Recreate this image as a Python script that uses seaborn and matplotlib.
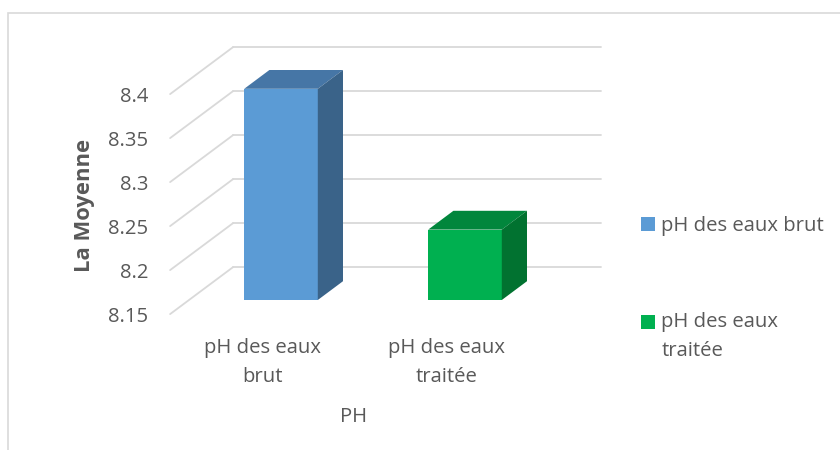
import matplotlib
matplotlib.use('Agg')
import matplotlib.pyplot as plt
import matplotlib.transforms as mtransforms
from matplotlib.patches import Polygon, Rectangle
from matplotlib.legend_handler import HandlerPatch
from matplotlib.lines import Line2D
import seaborn as sns

categories = ['pH des eaux brut', 'pH des eaux traitée']
values = [8.39, 8.23]
xtick_labels = ['pH des eaux\nbrut', 'pH des eaux\ntraitée']
legend_labels = ['pH des eaux brut', 'pH des eaux\ntraitée']
yticks = [8.15, 8.2, 8.25, 8.3, 8.35, 8.4]
ytick_labels = ['8.15', '8.2', '8.25', '8.3', '8.35', '8.4']
front_colors = ['#5B9BD5', '#00B050']
top_colors = ['#4676A6', '#01863C']
side_colors = ['#3A6389', '#017230']

sns.set_style('white')
plt.rcParams['font.family'] = ['Open Sans', 'DejaVu Sans']
text_color = '#595959'
grid_color = '#D9D9D9'
fs = 14.6

W, H = 840, 450
fig = plt.figure(figsize=(W / 100, H / 100), dpi=100)
# axes = the plane of the bars' front faces (pixels)
ax_left, ax_right, ax_bottom, ax_top = 189, 557, 300, 80
ax = fig.add_axes([ax_left / W, 1 - ax_bottom / H, (ax_right - ax_left) / W, (ax_bottom - ax_top) / H])

sns.barplot(x=categories, y=values, hue=categories, palette=front_colors, saturation=1,
            width=0.4, linewidth=0, legend=False, ax=ax, zorder=3)
ax.set_xlim(-0.5, 1.5)
ax.set_ylim(yticks[0], yticks[-1])
sns.despine(ax=ax, left=True, bottom=True)
ax.grid(False)

# depth of the 3D box in pixels, bar plane at 30% of it, bars 40% deep
depth = (63, 47)
front_off = (-0.3 * depth[0], -0.3 * depth[1])
back_off = (0.7 * depth[0], 0.7 * depth[1])
bar_d = (0.4 * depth[0], 0.4 * depth[1])

ident = mtransforms.IdentityTransform()
ymin = ax.get_ylim()[0]
for t in yticks:
    (xl, y), (xr, _) = ax.transData.transform([(-0.5, t), (1.5, t)])
    ax.add_line(Line2D([xl + back_off[0], xr + back_off[0]], [y + back_off[1]] * 2,
                       transform=ident, color=grid_color, lw=1.3, zorder=1, clip_on=False))
    ax.add_line(Line2D([xl + front_off[0], xl + back_off[0]], [y + front_off[1], y + back_off[1]],
                       transform=ident, color=grid_color, lw=1.3, zorder=1, clip_on=False))

for p, tc, sc in zip(ax.patches, top_colors, side_colors):
    x0, w, h = p.get_x(), p.get_width(), p.get_height()
    (xl, yb), (xr, yt) = ax.transData.transform([(x0, ymin), (x0 + w, h)])
    dx, dy = bar_d
    top = Polygon([(xl, yt), (xr, yt), (xr + dx, yt + dy), (xl + dx, yt + dy)],
                  closed=True, transform=ident, facecolor=tc, edgecolor='none', zorder=4, clip_on=False)
    side = Polygon([(xr, yb), (xr, yt), (xr + dx, yt + dy), (xr + dx, yb + dy)],
                   closed=True, transform=ident, facecolor=sc, edgecolor='none', zorder=4, clip_on=False)
    ax.add_artist(top)
    ax.add_artist(side)

# ticks on the front edge of the box
shift = mtransforms.ScaledTranslation(front_off[0] / 100, front_off[1] / 100, fig.dpi_scale_trans)
ax.set_yticks(yticks, ytick_labels)
ax.set_xticks([0, 1], xtick_labels)
ax.tick_params(axis='y', length=0, pad=15.8, labelsize=fs, labelcolor=text_color)
ax.tick_params(axis='x', length=0, pad=17.5, labelsize=fs, labelcolor=text_color)
for lab in ax.get_yticklabels() + ax.get_xticklabels():
    lab.set_transform(lab.get_transform() + shift)
for lab in ax.get_xticklabels():
    lab.set_linespacing(1.6)

ax.set_ylabel('La Moyenne', fontsize=15.8, fontweight='bold', color=text_color)
ax.yaxis.set_label_coords(-0.255, 0.43)
ax.set_xlabel('PH', fontsize=fs, color=text_color)
ax.xaxis.set_label_coords(0.447, -0.488)


def square_at(shift_pt):
    def make(legend, orig_handle, xdescent, ydescent, width, height, fontsize):
        s = 10
        return Rectangle((-xdescent, -ydescent + (height - s) / 2 + shift_pt), s, s)
    return make


handles = list(ax.patches)
leg = fig.legend(handles, legend_labels, loc='upper left', bbox_to_anchor=(641 / W, 1 - 216 / H),
                 frameon=False, fontsize=fs, labelcolor=text_color, handlelength=0.7,
                 handleheight=0.7, handletextpad=0.3, labelspacing=3.75, borderpad=0,
                 borderaxespad=0,
                 handler_map={handles[0]: HandlerPatch(patch_func=square_at(0)),
                              handles[1]: HandlerPatch(patch_func=square_at(10.5))})
for t in leg.get_texts():
    t.set_linespacing(1.6)

# chart area border
fig.add_artist(Rectangle((8 / W, -0.2), 1.2, 1.2 - 13 / H, transform=fig.transFigure,
                         fill=False, edgecolor=grid_color, lw=1.2))

fig.savefig('out.png', dpi=100)
